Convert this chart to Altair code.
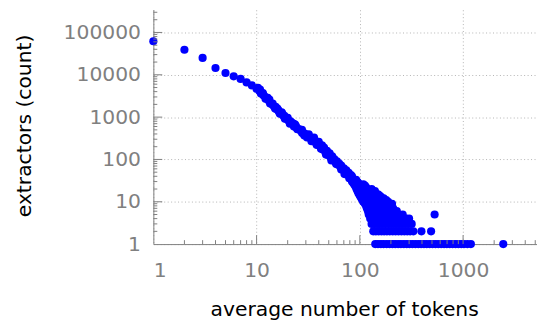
import altair as alt
import pandas as pd

# ---- data ----
# main curve (one point per value of average tokens)
curve_x = [1, 2, 3, 4, 5, 6, 7, 8, 9,
           10, 10.6, 11.2, 11.8, 12.5, 13.2, 13.9, 14.7, 15.5, 16.4, 17.3, 18.3, 19.3,
           20.4, 21.6, 22.8, 24.1, 25.5, 26.9, 28.4, 30.0, 31.7, 33.5, 35.4, 37.4, 39.5,
           41.7, 44.1, 46.6, 49.2, 52.0, 55.0, 58.1, 61.4, 64.9, 68.5, 72.4, 76.5, 80.8,
           85.4, 90.2, 95.3, 100.7]
curve_y = [62000, 39000, 25000, 14500, 11000, 9200, 8000, 6600, 5600,
           4700, 4200, 3700, 3200, 2750, 2400, 2100, 1800, 1550, 1350, 1200, 1050, 920,
           820, 720, 650, 580, 520, 470, 420, 380, 345, 315, 290, 255, 225,
           200, 170, 145, 128, 112, 100, 86, 75, 66, 57, 50, 44, 38,
           34, 28, 25, 21]

# neighbouring points that thicken the band
thick_x = [10.3, 11, 11.5, 12.2, 12.8, 13.5, 14.3, 15.1, 15.9, 16.8, 17.8, 18.8, 19.8, 21, 22.2,
           23, 24.8, 26.2, 27.6, 29.2, 30.8, 32.6, 34.4, 36.4, 38.4, 40.6, 43, 45.4, 48, 50.6,
           53.5, 56.5,
           10.8, 11.6, 12.4, 13.3, 14.2, 15.3, 16.3, 17.5, 18.6, 20, 21.3, 22.6, 24]
thick_y = [4900, 3600, 3700, 2700, 2850, 2100, 2100, 1600, 1600, 1200, 1200, 920, 950, 700, 720,
           600, 520, 510, 420, 410, 330, 340, 280, 290, 220, 225, 180, 175, 135, 130,
           100, 102,
           4500, 3350, 2900, 2600, 2000, 1750, 1450, 1300, 1080, 960, 800, 700, 620]

# scatter around the curve where counts get small
spread_x = [23.5, 27.5, 32, 36, 40, 43, 45, 48, 51, 54, 57, 60, 63, 66, 70, 74, 78, 82, 84, 88, 92, 96, 99,
            29, 34, 38, 42, 47, 53, 59, 66, 71, 79, 86, 93, 98,
            97, 106, 118, 132, 98, 110, 125, 95, 105, 120, 140, 96, 108, 122, 93, 104, 116, 130,
            92, 102, 115, 90, 100, 112, 88, 98, 108, 86, 96, 84, 94, 83, 92]
spread_y = [680, 500, 390, 330, 260, 215, 190, 160, 140, 118, 96, 90, 80, 72, 62, 55, 48, 43, 40, 32, 31, 28, 24,
            370, 270, 230, 180, 130, 95, 78, 58, 45, 36, 30, 24, 20,
            16, 16, 16, 16, 17, 17, 17, 18, 18, 18, 18, 19, 19, 19, 20, 20, 20, 20,
            22, 22, 22, 24, 24, 24, 26, 26, 26, 28, 28, 30, 30, 33, 33]

# rows of small integer counts
row15_x = [99, 107, 116, 126, 138, 150]
row14_x = [100, 108, 117, 127, 140, 155]
row13_x = [102, 110, 118, 128, 140, 160]
row12_x = [104, 112, 120, 129, 140, 152, 170]
row11_x = [106, 113, 121, 130, 140, 152, 165, 180]
row10_x = [108, 115, 123, 131, 140, 150, 161, 175, 188]
row9_x = [112, 119, 127, 135, 144, 154, 165, 177, 190, 205]
row8_x = [115, 122, 130, 138, 147, 157, 168, 180, 198]
row7_x = [117, 125, 133, 141, 150, 160, 171, 183, 196, 210]
row6_x = [120, 127, 135, 144, 153, 163, 174, 186, 199, 228]
row5_x = [122, 130, 138, 147, 157, 167, 178, 190, 203, 217, 240, 260, 530]
row4_x = [126, 134, 142, 151, 161, 171, 182, 194, 207, 221, 236, 252, 280, 300]
row3_x = [130, 138, 147, 156, 166, 177, 189, 201, 214, 228, 243, 259, 276, 295, 318]
row2_x = [135, 143, 152, 162, 172, 183, 195, 208, 222, 237, 253, 270, 288, 307, 330, 395, 490]
row1_x = [141, 150, 160, 170, 182, 194, 207, 220, 235, 250, 267, 285, 303, 323, 345, 368, 392,
          418, 445, 475, 506, 540, 575, 613, 654, 697, 743, 792, 845, 900, 960, 1020, 1100,
          1190, 2450]

rows = {15: row15_x, 14: row14_x, 13: row13_x, 12: row12_x, 11: row11_x, 10: row10_x,
        9: row9_x, 8: row8_x, 7: row7_x, 6: row6_x, 5: row5_x, 4: row4_x, 3: row3_x,
        2: row2_x, 1: row1_x}

xs_all = list(curve_x) + list(thick_x) + list(spread_x)
ys_all = list(curve_y) + list(thick_y) + list(spread_y)
for cnt, xl in rows.items():
    xs_all += xl
    ys_all += [cnt] * len(xl)
points = pd.DataFrame({"tokens": xs_all, "count": ys_all})

x_major = [1, 10, 100, 1000]
y_major = [1, 10, 100, 1000, 10000, 100000]
x_minor = [m * d for d in [1, 10, 100] for m in range(2, 10)] + [2000, 3000, 4000, 5000]
y_minor = [m * d for d in [1, 10, 100, 1000, 10000] for m in range(2, 10)] + [200000, 300000]

W, H = 388, 237
GRAY = "#808080"
xscale = alt.Scale(type="log", domain=[1, 5200], nice=False)
yscale = alt.Scale(type="log", domain=[1, 344000], nice=False)

x_axis = alt.Axis(values=x_major, format="d", title="average number of tokens",
                  ticks=False, labelPadding=17, grid=True,
                  titleX=193, titleY=72, titleBaseline="alphabetic")
y_axis = alt.Axis(values=y_major, format="d", title="extractors (count)",
                  ticks=False, labelPadding=13, grid=True,
                  titleX=-130, titleY=117, titleBaseline="middle", titleAngle=-90)

pts = alt.Chart(points).mark_circle(size=68, color="#0000ff", opacity=1).encode(
    x=alt.X("tokens:Q", scale=xscale, axis=x_axis),
    y=alt.Y("count:Q", scale=yscale, axis=y_axis),
)

xmin = alt.Chart(pd.DataFrame({"tokens": x_minor})).mark_rule(color=GRAY, strokeWidth=1).encode(
    x=alt.X("tokens:Q", scale=xscale, axis=x_axis), y=alt.value(H), y2=alt.value(H - 4))
xmaj = alt.Chart(pd.DataFrame({"tokens": x_major[1:]})).mark_rule(color=GRAY, strokeWidth=1).encode(
    x=alt.X("tokens:Q", scale=xscale, axis=x_axis), y=alt.value(H), y2=alt.value(H - 9))
ymin = alt.Chart(pd.DataFrame({"count": y_minor})).mark_rule(color=GRAY, strokeWidth=1).encode(
    y=alt.Y("count:Q", scale=yscale, axis=y_axis), x=alt.value(0), x2=alt.value(4))
ymaj = alt.Chart(pd.DataFrame({"count": y_major[1:]})).mark_rule(color=GRAY, strokeWidth=1).encode(
    y=alt.Y("count:Q", scale=yscale, axis=y_axis), x=alt.value(0), x2=alt.value(9))

chart = alt.layer(pts, xmin, xmaj, ymin, ymaj).properties(
    width=W, height=H,
    autosize=alt.AutoSizeParams(type="none"),
    padding={"left": 147, "top": 0, "right": 0, "bottom": 76},
).configure_view(stroke=None).configure_axis(
    domainColor=GRAY, domainWidth=1,
    labelColor=GRAY, labelFont="DejaVu Sans", labelFontSize=20.5,
    titleColor="black", titleFont="DejaVu Sans", titleFontSize=20.5, titleFontWeight="normal",
    gridColor="#b4b4b4", gridDash=[1, 2.5], gridWidth=1,
)

chart.save("out.html", embed_options={"renderer": "svg", "actions": False})
